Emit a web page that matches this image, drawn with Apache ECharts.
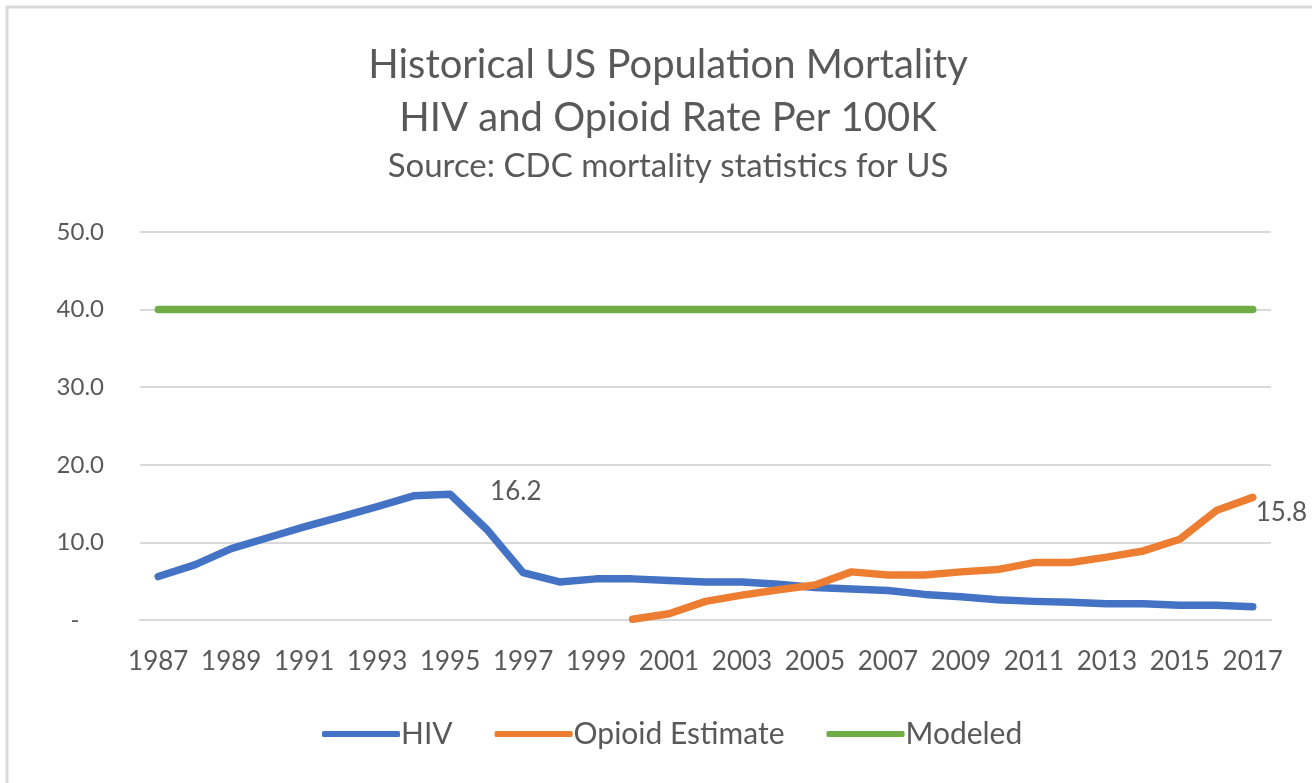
<!DOCTYPE html>
<html><head><meta charset="utf-8">
<script src="https://cdn.jsdelivr.net/npm/echarts@6/dist/echarts.min.js"></script>
<style>html,body{margin:0;padding:0;background:#fff;overflow:hidden}#c{width:1312px;height:783px}</style>
</head><body><div id="c"></div>
<script>
const years = ['1987','1988','1989','1990','1991','1992','1993','1994','1995','1996','1997','1998','1999','2000','2001','2002','2003','2004','2005','2006','2007','2008','2009','2010','2011','2012','2013','2014','2015','2016','2017'];
const hiv = [5.6,7.1,9.2,10.6,12.0,13.3,14.6,16.0,16.2,11.7,6.1,4.9,5.3,5.3,5.1,4.9,4.9,4.6,4.2,4.0,3.8,3.3,3.0,2.6,2.4,2.3,2.1,2.1,1.9,1.9,1.7];
const opioid = [null,null,null,null,null,null,null,null,null,null,null,null,null,0.1,0.8,2.4,3.2,3.9,4.5,6.2,5.8,5.8,6.2,6.5,7.4,7.4,8.1,8.9,10.4,14.1,15.8];
const modeled = [40,40,40,40,40,40,40,40,40,40,40,40,40,40,40,40,40,40,40,40,40,40,40,40,40,40,40,40,40,40,40];
const yTicks = [0,10,20,30,40,50];
const hivLabelYear = '1995';
const opioidLabelYear = '2017';
const titleLines = ['Historical US Population Mortality','HIV and Opioid Rate Per 100K'];
const subtitle = 'Source: CDC mortality statistics for US';

const FONT = 'Lato';
const TXT = '#595959';
const chart = echarts.init(document.getElementById('c'));

function withLabel(arr, year, pos){
  return arr.map((v,i)=> years[i]===year ? {value:v, label:{show:true, position:pos, formatter:(p)=>p.value.toFixed(1), color:TXT, fontSize:26, fontFamily:FONT}} : v);
}

const CX = 668;
chart.setOption({
  backgroundColor:'#fff',
  animation:false,
  graphic:[
    {type:'rect', shape:{x:7,y:7,width:1400,height:900}, style:{fill:'none', stroke:'#d9d9d9', lineWidth:3}, silent:true},
    {type:'text', x:CX, y:65, style:{text:titleLines[0], fontFamily:FONT, fontSize:40, fill:TXT, textAlign:'center', textVerticalAlign:'middle'}},
    {type:'text', x:CX, y:118, style:{text:titleLines[1], fontFamily:FONT, fontSize:40, fill:TXT, textAlign:'center', textVerticalAlign:'middle'}},
    {type:'text', x:CX, y:166, style:{text:subtitle, fontFamily:FONT, fontSize:33, fill:TXT, textAlign:'center', textVerticalAlign:'middle'}}
  ],
  grid:{left:140, right:41, top:232, bottom:163, containLabel:false},
  legend:{bottom:34, left:322, padding:0, itemWidth:78, itemHeight:6, itemGap:42, icon:'roundRect',
    textStyle:{fontFamily:FONT, fontSize:30, color:TXT, padding:[0,0,0,-4]},
    data:['HIV','Opioid Estimate','Modeled']},
  xAxis:{type:'category', data:years, boundaryGap:true,
    axisLine:{show:true, lineStyle:{color:'#d9d9d9', width:2}}, axisTick:{show:false},
    axisLabel:{interval:1, margin:29, fontFamily:FONT, fontSize:26, color:TXT}},
  yAxis:{type:'value', min:yTicks[0], max:yTicks[yTicks.length-1], interval:10,
    axisLine:{show:false}, axisTick:{show:false},
    splitLine:{lineStyle:{color:'#d9d9d9', width:2}},
    axisLabel:{margin:36, fontFamily:FONT, fontSize:24, color:TXT, formatter:(v)=> v===0 ? '-    ' : v.toFixed(1)}},
  series:[
    {name:'HIV', type:'line', data:withLabel(hiv, hivLabelYear, [40,-16]), showSymbol:true, symbol:'circle', symbolSize:0,
     lineStyle:{color:'#4472C4', width:7.5, cap:'round', join:'round'}, itemStyle:{color:'#4472C4'}},
    {name:'Opioid Estimate', type:'line', data:withLabel(opioid, opioidLabelYear, [3,2]), showSymbol:true, symbol:'circle', symbolSize:0,
     lineStyle:{color:'#ED7D31', width:7.5, cap:'round', join:'round'}, itemStyle:{color:'#ED7D31'}},
    {name:'Modeled', type:'line', data:modeled, showSymbol:false, symbol:'none',
     lineStyle:{color:'#70AD47', width:7.5, cap:'round'}, itemStyle:{color:'#70AD47'}}
  ]
});
</script></body></html>
